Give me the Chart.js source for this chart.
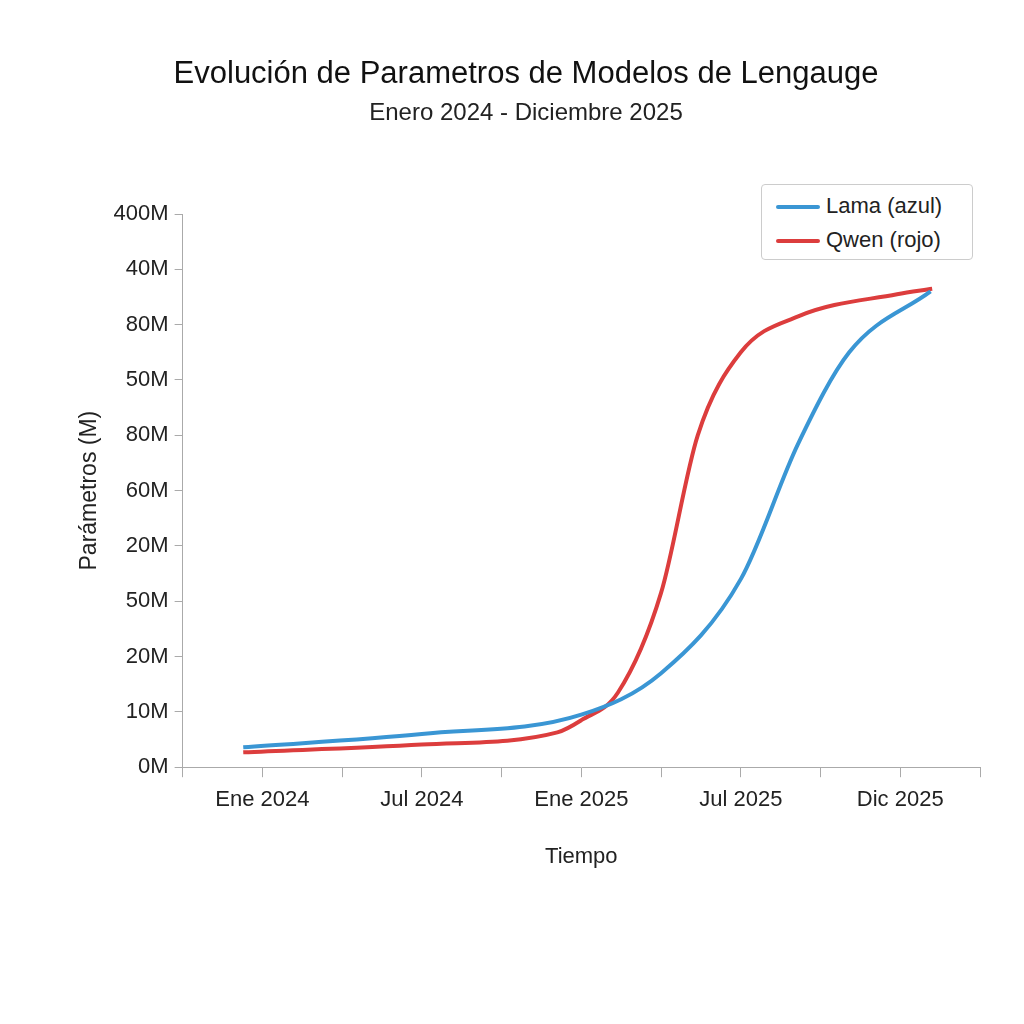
<!DOCTYPE html>
<html>
<head>
<meta charset="utf-8">
<script src="https://cdn.jsdelivr.net/npm/chart.js@4"></script>
<style>
  body { margin:0; background:#fff; font-family:"Liberation Sans", Arial, sans-serif; }
  #wrap { position:relative; width:1024px; height:1024px; }
  #legend { position:absolute; left:761px; top:184px; width:210px; height:74px; border:1px solid #ccc; border-radius:4px; background:#fff; font-size:22px; color:#222; }
  #legend div { position:absolute; left:14px; }
  #legend span { display:inline-block; width:44px; height:4px; border-radius:2px; vertical-align:middle; margin-right:6px; }
</style>
</head>
<body>
<div id="wrap">
  <canvas id="chart" width="1024" height="1024"></canvas>
  <div id="legend">
    <div style="top:8px"><span style="background:#3a96d4"></span>Lama (azul)</div>
    <div style="top:42px"><span style="background:#dc3d3d"></span>Qwen (rojo)</div>
  </div>
</div>
<script>
var xTickLabels = ['Ene 2024', 'Jul 2024', 'Ene 2025', 'Jul 2025', 'Dic 2025'];
var yTickLabels = ['0M', '10M', '20M', '50M', '20M', '60M', '80M', '50M', '80M', '40M', '400M'];

var lamaX = [-0.12, 1.0, 2.0, 2.5, 3.0, 3.36, 3.68, 4.19];
var lamaY = [0.36, 0.6, 0.95, 1.7, 3.4, 5.85, 7.5, 8.6];
var qwenX = [-0.12, 1.0, 1.85, 2.0, 2.23, 2.5, 2.73, 3.0, 3.36, 3.98, 4.2];
var qwenY = [0.27, 0.41, 0.63, 0.85, 1.35, 3.15, 6.0, 7.5, 8.15, 8.55, 8.65];

function pts(xs, ys) {
  return xs.map(function (x, i) { return { x: x, y: ys[i] }; });
}

var tickFont = { family: '"Liberation Sans", Arial, sans-serif', size: 22 };

new Chart(document.getElementById('chart').getContext('2d'), {
  type: 'line',
  data: {
    datasets: [
      { label: 'Lama (azul)', data: pts(lamaX, lamaY), borderColor: '#3a96d4', borderWidth: 4, pointRadius: 0, cubicInterpolationMode: 'monotone' },
      { label: 'Qwen (rojo)', data: pts(qwenX, qwenY), borderColor: '#dc3d3d', borderWidth: 4, pointRadius: 0, cubicInterpolationMode: 'monotone' }
    ]
  },
  options: {
    responsive: false,
    animation: false,
    layout: { padding: { left: 72, right: 44, top: 0, bottom: 150 } },
    plugins: {
      legend: { display: false },
      title: { display: true, text: 'Evolución de Parametros de Modelos de Lengauge', color: '#111',
        font: { family: '"Liberation Sans", Arial, sans-serif', size: 31, weight: 'normal' }, padding: { top: 56, bottom: 6 } },
      subtitle: { display: true, text: 'Enero 2024 - Diciembre 2025', color: '#222',
        font: { family: '"Liberation Sans", Arial, sans-serif', size: 24 }, padding: { bottom: 86 } }
    },
    scales: {
      x: {
        type: 'linear', min: -0.5, max: 4.5,
        border: { color: '#aaa' },
        grid: { drawOnChartArea: false, drawTicks: true, tickLength: 10, color: '#aaa' },
        ticks: { stepSize: 0.5, autoSkip: false, maxRotation: 0, minRotation: 0, color: '#222', font: tickFont, padding: 10,
          callback: function (v) { return Number.isInteger(v) ? xTickLabels[v] : ''; } },
        title: { display: true, text: 'Tiempo', color: '#222', font: tickFont, padding: { top: 20 } }
      },
      y: {
        min: 0, max: 10,
        border: { color: '#aaa' },
        grid: { drawOnChartArea: false, drawTicks: true, tickLength: 8, color: '#aaa' },
        ticks: { stepSize: 1, color: '#222', font: tickFont, padding: 6,
          callback: function (v) { return yTickLabels[v]; } },
        title: { display: true, text: 'Parámetros (M)', color: '#222', font: { family: '"Liberation Sans", Arial, sans-serif', size: 23 }, padding: { bottom: 4 } }
      }
    }
  }
});
</script>
</body>
</html>
